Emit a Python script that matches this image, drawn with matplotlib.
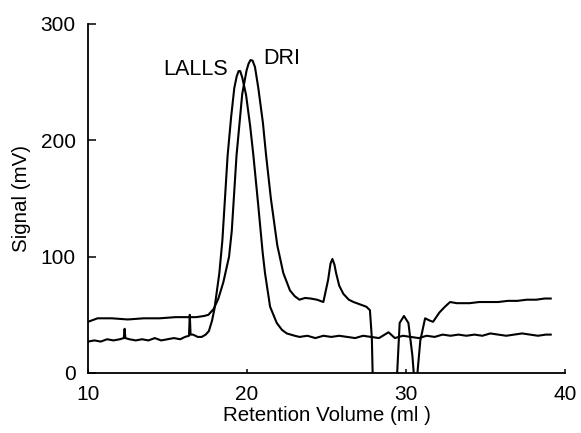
import matplotlib
matplotlib.use('Agg')
import matplotlib.pyplot as plt

plt.rcParams['font.family'] = ['Liberation Sans', 'DejaVu Sans']

# LALLS trace (retention volume ml, signal mV)
lalls_x = [10.0, 10.4, 10.8, 11.2, 11.6, 12.0, 12.25, 12.3, 12.35, 12.6,
           13.0, 13.4, 13.8, 14.2, 14.6, 15.0, 15.4, 15.8, 16.1, 16.35,
           16.4, 16.45, 16.6, 16.9, 17.15, 17.4, 17.6, 17.8, 17.95, 18.1,
           18.26, 18.45, 18.78, 19.0, 19.2, 19.35, 19.47, 19.57, 19.7, 19.94,
           20.2, 20.4, 20.7, 20.98, 21.13, 21.45, 21.87, 22.2, 22.5, 23.0,
           23.3, 23.8, 24.3, 24.8, 25.3, 25.8, 26.3, 26.8, 27.3, 27.8,
           28.3, 28.9, 29.3, 29.8, 30.3, 30.8, 31.3, 31.8, 32.3, 32.8,
           33.3, 33.8, 34.3, 34.8, 35.3, 35.8, 36.3, 36.8, 37.3, 37.8,
           38.3, 38.8, 39.1]
lalls_y = [27, 28, 27, 29, 28, 29, 30, 38, 30, 29,
           28, 29, 28, 30, 28, 29, 30, 29, 31, 32,
           50, 33, 33, 31, 31, 33, 36, 45, 55, 70,
           86, 114, 187, 220, 245, 255, 259.5, 259.5, 254, 239,
           212, 187, 145, 104, 86, 57, 43, 37, 34, 32,
           31, 32, 30, 32, 31, 32, 31, 30, 32, 31,
           30, 35, 30, 32, 31, 30, 32, 31, 33, 32,
           33, 32, 33, 32, 34, 33, 32, 33, 34, 33,
           32, 33, 33]

# DRI trace
dri_x = [10.0, 10.6, 11.5, 12.5, 13.5, 14.5, 15.5, 16.1, 16.8, 17.3,
         17.57, 17.9, 18.2, 18.51, 18.87, 19.04, 19.34, 19.7, 19.97, 20.1,
         20.22, 20.35, 20.5, 20.71, 21.0, 21.2, 21.5, 21.9, 22.28, 22.7,
         23.0, 23.3, 23.65, 24.0, 24.4, 24.8, 25.1, 25.25, 25.37, 25.5,
         25.6, 25.8, 26.06, 26.4, 26.7, 27.1, 27.5, 27.73, 27.85, 27.95,
         29.3, 29.45, 29.6, 29.87, 30.15, 30.4, 30.6, 30.75, 30.9, 31.2,
         31.5, 31.7, 31.9, 32.1, 32.45, 32.77, 33.2, 33.6, 34.0, 34.6,
         35.2, 35.8, 36.4, 37.0, 37.6, 38.2, 38.7, 39.1]
dri_y = [44, 47, 47, 46, 47, 47, 48, 48, 48, 49,
         50, 55, 64, 78, 100, 122, 187, 240, 260, 266,
         269, 268.5, 263, 245, 215, 187, 150, 110, 86, 71,
         66, 63, 64.5, 64, 63, 61, 80, 94, 98, 93,
         86, 75, 68, 63, 61, 59, 57, 54, 30, -30,
         -30, 2, 43, 49, 43, 15, -20, 5, 28, 47,
         45, 44, 48, 52, 57, 61, 60, 60, 60, 61,
         61, 61, 62, 62, 63, 63, 64, 64]

fig = plt.figure(figsize=(5.81, 4.33), dpi=100)
ax = fig.add_axes([0.1515, 0.1386, 0.821, 0.806])

ax.plot(lalls_x, lalls_y, color='black', lw=1.5)
ax.plot(dri_x, dri_y, color='black', lw=1.5)

ax.text(14.72, 260.5, 'LALLS', fontsize=15.5, va='center', ha='left')
ax.text(21.0, 270, 'DRI', fontsize=15.5, va='center', ha='left')

ax.set_xlim(10, 40)
ax.set_ylim(0, 300)
ax.set_xticks([10, 20, 30, 40])
ax.set_yticks([0, 100, 200, 300])
ax.spines['top'].set_visible(False)
ax.spines['right'].set_visible(False)
ax.spines['left'].set_linewidth(1.3)
ax.spines['bottom'].set_linewidth(1.3)
ax.tick_params(axis='y', direction='in', length=6, width=1.1, labelsize=15, pad=9)
ax.tick_params(axis='x', direction='in', length=3, width=1.1, labelsize=15, pad=9)

ax.set_xlabel('Retention Volume (ml )', fontsize=14.8, labelpad=1)
ax.set_ylabel('Signal (mV)', fontsize=14.8, labelpad=7)

fig.savefig('out.png', dpi=100)
